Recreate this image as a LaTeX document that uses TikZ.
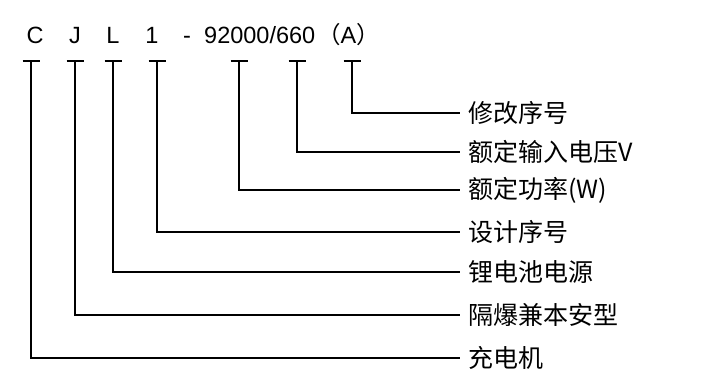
\documentclass[tikz,border=0pt]{standalone}
\usepackage{fontspec}
\setmainfont{Liberation Sans}
\newfontfamily\cjk{Noto Sans CJK SC}
\begin{document}
\begin{tikzpicture}[x=1pt,y=-1pt,
  lab/.style={anchor=west, inner xsep=8pt, inner ysep=0pt, font=\cjk\fontsize{25}{25}\selectfont},
  code/.style={anchor=base, inner sep=0pt, font=\fontsize{23.5}{24}\selectfont},
  wire/.style={line width=1.8pt},
  thickwire/.style={line width=2.8pt}]
\useasboundingbox (0,0) rectangle (720,378);
% top code
\node[code] (cC) at (35,43) {C};
\node[code] (cJ) at (75,43) {J};
\node[code] (cL) at (113,43) {L};
\node[code] (c1) at (152,43) {1};
\node[code] (cdash) at (187,43) {-};
\node[code, anchor=base west] (cnum) at (204,43) {92000/660};
\node[code, anchor=base west] (crev) at (317,43) {{\cjk （}A{\cjk ）}};
% labels
\node[lab] (lA) at (460,113) {修改序号};
\node[lab] (lV) at (460,152) {额定输入电压V};
\node[lab] (lP) at (460,190) {额定功率(W)};
\node[lab] (l1) at (460,232) {设计序号};
\node[lab] (lL) at (460,272) {锂电池电源};
\node[lab] (lJ) at (460,315) {隔爆兼本安型};
\node[lab] (lC) at (460,358) {充电机};
% tick points
\coordinate (tC) at (31,61);
\coordinate (tJ) at (75,61);
\coordinate (tL) at (113,61);
\coordinate (t1) at (157,61);
\coordinate (tP) at (239,61);
\coordinate (tV) at (297,61);
\coordinate (tA) at (352,61);
\foreach \t in {tC,tJ,tL,t1,tP,tV,tA}
  \draw[wire] ([xshift=-8.5pt]\t) -- ([xshift=8.5pt]\t);
\draw[wire] (tA) |- (lA.west);
\draw[wire] (tV) |- (lV.west);
\draw[wire] (tP) -- (tP |- lP.west);
\draw[thickwire] ([xshift=-0.9pt]tP |- lP.west) -- (lP.west);
\draw[wire] (t1) |- (l1.west);
\draw[wire] (tL) |- (lL.west);
\draw[wire] (tJ) |- (lJ.west);
\draw[wire] (tC) |- (lC.west);
\end{tikzpicture}
\end{document}
